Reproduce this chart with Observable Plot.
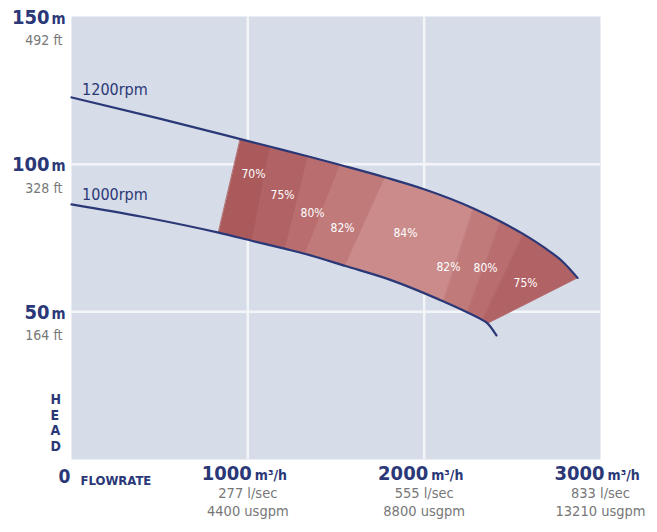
<!DOCTYPE html>
<html><head><meta charset="utf-8">
<script src="https://cdn.jsdelivr.net/npm/d3@7"></script>
<script src="https://cdn.jsdelivr.net/npm/@observablehq/plot@0.6"></script>
<style>body{margin:0;background:#fff}</style>
</head><body><div id="chart"></div>
<script>
// 1200 rpm curve (flow m3/h, head m)
const topQ = [0, 500, 958, 1129, 1344, 1526, 1781, 2000, 2280, 2433, 2563, 2680, 2780, 2870];
const topH = [122.6, 115.4, 108.5, 105.9, 102.6, 99.7, 95.5, 91.5, 85.0, 80.6, 76.3, 71.8, 67.3, 61.5];
// 1000 rpm curve
const botQ = [0, 400, 834, 1026, 1214, 1327, 1554, 1800, 2110, 2246, 2331, 2359, 2410];
const botH = [86.4, 82.2, 76.8, 74.0, 71.3, 69.6, 65.5, 61.0, 53.5, 49.8, 47.2, 46.1, 42.0];
// efficiency zones: boundaries on the 1200 rpm and 1000 rpm curves
const zoneLabels = ["70%", "75%", "80%", "82%", "84%", "82%", "80%", "75%"];
const zoneTopQ = [958, 1129, 1344, 1526, 1781, 2280, 2433, 2563, 2870];
const zoneBotQ = [834, 1026, 1214, 1327, 1554, 2110, 2246, 2331, 2359];
const zoneLabelQ = [1032, 1197, 1367, 1537, 1894, 2138, 2348, 2575];
const zoneLabelH = [96.5, 89.4, 83.3, 78.2, 76.5, 65.0, 64.7, 59.6];
const zoneColors = ["#aa5a5b", "#b16264", "#b96d6e", "#c17a7a", "#ca8b8a", "#c17a7a", "#b96d6e", "#b16264"];
// axis ticks
const yTicks = [150, 100, 50];
const yMetres = ["150", "100", "50"];
const yFeet = ["492 ft", "328 ft", "164 ft"];
const xTicks = [1000, 2000, 3000];
const xNames = ["1000", "2000", "3000"];
const xLps = ["277 l/sec", "555 l/sec", "833 l/sec"];
const xGpm = ["4400 usgpm", "8800 usgpm", "13210 usgpm"];

const NAVY = "#2b3877";
const GREY = "#777777";
const COND = "'DejaVu Sans Condensed', 'Liberation Sans', sans-serif";

const topRows = topQ.map((q, i) => ({q, h: topH[i]}));
const botRows = botQ.map((q, i) => ({q, h: botH[i]}));
function zonePoly(i) {
  const a = zoneTopQ[i], b = zoneTopQ[i + 1], c = zoneBotQ[i], d = zoneBotQ[i + 1];
  const t = topRows.filter(r => r.q >= a && r.q <= b);
  const s = botRows.filter(r => r.q >= c && r.q <= d).reverse();
  return [...t, ...s];
}

const chart = Plot.plot({
  width: 657, height: 532,
  marginLeft: 71, marginRight: 57, marginTop: 16, marginBottom: 73,
  x: {domain: [0, 3000], axis: null},
  y: {domain: [0, 150], axis: null},
  style: {fontFamily: "'Liberation Sans', Arial, sans-serif", background: "#fff"},
  marks: [
    Plot.frame({fill: "#d6dce8", stroke: null}),
    Plot.ruleY([50, 100], {stroke: "#f3f5f9", strokeWidth: 2.5}),
    Plot.ruleX([1000, 2000], {stroke: "#f3f5f9", strokeWidth: 2.5}),
    ...zoneLabels.map((_, i) => Plot.line(zonePoly(i), {x: "q", y: "h", fill: zoneColors[i], stroke: zoneColors[i], strokeWidth: 0.8, curve: "linear-closed"})),
    Plot.line(topRows, {x: "q", y: "h", stroke: NAVY, strokeWidth: 2.2, curve: "monotone-x"}),
    Plot.line(botRows, {x: "q", y: "h", stroke: NAVY, strokeWidth: 2.2, curve: "monotone-x"}),
    Plot.text(zoneLabels, {x: (d, i) => zoneLabelQ[i], y: (d, i) => zoneLabelH[i], text: d => d, fill: "#fff", fontSize: 12, fontFamily: COND}),
    Plot.text(["1200rpm"], {x: 60, y: 125.3, text: d => d, textAnchor: "start", fill: NAVY, fontSize: 16, fontFamily: COND, letterSpacing: -0.5}),
    Plot.text(["1000rpm"], {x: 60, y: 89.7, text: d => d, textAnchor: "start", fill: NAVY, fontSize: 16, fontFamily: COND, letterSpacing: -0.5}),
    // y labels
    Plot.text(yTicks, {y: d => d, text: (d, i) => yMetres[i], frameAnchor: "left", dx: -22, dy: 7, lineAnchor: "bottom", textAnchor: "end", fill: NAVY, fontSize: 20, fontWeight: "bold", fontFamily: COND, letterSpacing: -1}),
    Plot.text(yTicks, {y: d => d, text: () => "m", frameAnchor: "left", dx: -20, dy: 7, lineAnchor: "bottom", textAnchor: "start", fill: NAVY, fontSize: 15, fontWeight: "bold", fontFamily: COND}),
    Plot.text(yTicks, {y: d => d, text: (d, i) => yFeet[i], frameAnchor: "left", dx: -9, dy: 28.5, lineAnchor: "bottom", textAnchor: "end", fill: GREY, fontSize: 14, fontFamily: COND}),
    Plot.text(["H\nE\nA\nD"], {frameAnchor: "bottom-left", dx: -21, dy: -9, lineAnchor: "bottom", lineHeight: 1.1, text: d => d, fill: NAVY, fontSize: 14, fontWeight: "bold", fontFamily: COND}),
    Plot.text(["0"], {frameAnchor: "bottom-left", dx: -13, dy: 23, lineAnchor: "bottom", text: d => d, fill: NAVY, fontSize: 19, fontWeight: "bold", fontFamily: COND}),
    Plot.text(["FLOWRATE"], {frameAnchor: "bottom-left", dx: 9, dy: 25, lineAnchor: "bottom", textAnchor: "start", text: d => d, fill: NAVY, fontSize: 13, fontWeight: "bold", fontFamily: COND, letterSpacing: -0.3}),
    // x labels
    Plot.text(xTicks, {x: d => d, text: (d, i) => xNames[i], frameAnchor: "bottom", dx: 4, dy: 20, lineAnchor: "bottom", textAnchor: "end", fill: NAVY, fontSize: 20, fontWeight: "bold", fontFamily: COND, letterSpacing: -1}),
    Plot.text(xTicks, {x: d => d, text: () => "m³/h", frameAnchor: "bottom", dx: 7, dy: 20, lineAnchor: "bottom", textAnchor: "start", fill: NAVY, fontSize: 14, fontWeight: "bold", fontFamily: COND, letterSpacing: -0.5}),
    Plot.text(xTicks, {x: d => d, text: (d, i) => xLps[i], frameAnchor: "bottom", dy: 38, lineAnchor: "bottom", fill: GREY, fontSize: 14.5, fontFamily: COND}),
    Plot.text(xTicks, {x: d => d, text: (d, i) => xGpm[i], frameAnchor: "bottom", dy: 56, lineAnchor: "bottom", fill: GREY, fontSize: 14.5, fontFamily: COND})
  ]
});
document.getElementById("chart").appendChild(chart);
</script>
</body></html>
